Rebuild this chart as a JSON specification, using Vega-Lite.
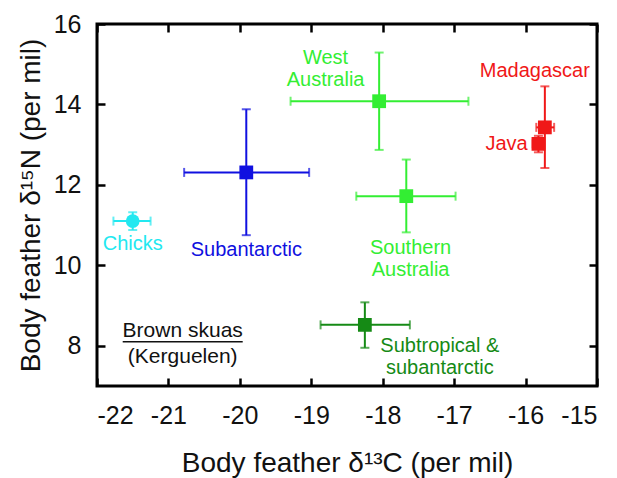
{
  "$schema": "https://vega.github.io/schema/vega-lite/v6.json",
  "autosize": "none",
  "width": 500,
  "height": 362,
  "padding": {"left": 97, "top": 24, "right": 20, "bottom": 92},
  "background": "white",
  "config": {
    "view": {"stroke": "#000", "strokeWidth": 3},
    "font": "Liberation Sans",
    "axis": {
      "grid": false,
      "domain": false,
      "tickColor": "#000",
      "tickWidth": 2.5,
      "tickSize": 8,
      "offset": -8,
      "labelFont": "Liberation Sans",
      "labelFontSize": 25,
      "labelColor": "#111",
      "labelExpr": "'' + datum.value",
      "titleFont": "Liberation Sans",
      "titleFontSize": 28,
      "titleFontWeight": "normal",
      "titleColor": "#111"
    }
  },
  "datasets": {
    "pts": [
      {"g": "Chicks", "x": -21.5, "y": 11.1, "xlo": -21.77, "xhi": -21.25, "ylo": 10.88, "yhi": 11.32},
      {"g": "Subantarctic", "x": -19.91, "y": 12.31, "xlo": -20.78, "xhi": -19.03, "ylo": 10.75, "yhi": 13.88},
      {"g": "West Australia", "x": -18.05, "y": 14.08, "xlo": -19.29, "xhi": -16.8, "ylo": 12.87, "yhi": 15.29},
      {"g": "Southern Australia", "x": -17.67, "y": 11.72, "xlo": -18.37, "xhi": -16.98, "ylo": 10.82, "yhi": 12.63},
      {"g": "Subtropical & subantarctic", "x": -18.25, "y": 8.52, "xlo": -18.87, "xhi": -17.62, "ylo": 7.95, "yhi": 9.08},
      {"g": "Madagascar", "x": -15.73, "y": 13.43, "xlo": -15.85, "xhi": -15.6, "ylo": 12.42, "yhi": 14.45},
      {"g": "Java", "x": -15.82, "y": 13.02, "xlo": -15.9, "xhi": -15.74, "ylo": 12.81, "yhi": 13.22}
    ],
    "labels": [
      {"g": "Chicks", "t": "Chicks", "x": -21.5, "y": 10.52},
      {"g": "Subantarctic", "t": "Subantarctic", "x": -19.91, "y": 10.39},
      {"g": "West Australia", "t": "West", "x": -18.8, "y": 15.15},
      {"g": "West Australia", "t": "Australia", "x": -18.8, "y": 14.6},
      {"g": "Madagascar", "t": "Madagascar", "x": -15.87, "y": 14.83},
      {"g": "Southern Australia", "t": "Southern", "x": -17.61, "y": 10.43},
      {"g": "Southern Australia", "t": "Australia", "x": -17.61, "y": 9.89},
      {"g": "Subtropical & subantarctic", "t": "Subtropical &", "x": -17.2, "y": 8.0},
      {"g": "Subtropical & subantarctic", "t": "subantarctic", "x": -17.2, "y": 7.45}
    ],
    "kerg": [
      {"g": "Kerguelen", "t": "Brown skuas", "x": -20.8, "y": 8.37},
      {"g": "Kerguelen", "t": "(Kerguelen)", "x": -20.8, "y": 7.73}
    ],
    "javalabel": [
      {"g": "Java", "t": "Java", "x": -15.97, "y": 13.02}
    ],
    "underline": [
      {"g": "Kerguelen", "x1": -21.64, "x2": -19.96, "y": 8.1}
    ]
  },
  "resolve": {"axis": {"x": "independent", "y": "independent"}},
  "layer": [
    {
      "data": {"name": "pts"},
      "mark": {"type": "rule", "strokeWidth": 2},
      "encoding": {
        "x": {"field": "xlo", "type": "quantitative", "scale": {"domain": [-22, -15], "nice": false, "zero": false},
          "axis": {"orient": "bottom", "values": [-22, -21, -20, -19, -18, -17, -16, -15], "labelPadding": 17, "title": "Body feather δ¹³C (per mil)", "titlePadding": 21}},
        "x2": {"field": "xhi"},
        "y": {"field": "y", "type": "quantitative", "scale": {"domain": [7, 16], "nice": false, "zero": false},
          "axis": {"orient": "left", "values": [8, 10, 12, 14, 16], "labelPadding": 16, "title": "Body feather δ¹⁵N (per mil)", "titlePadding": 8}},
        "color": {"field": "g", "type": "nominal", "legend": null,
          "scale": {"domain": ["Chicks", "Subantarctic", "West Australia", "Southern Australia", "Subtropical & subantarctic", "Madagascar", "Java", "Kerguelen"],
                    "range": ["#22e8f0", "#1010e0", "#33ee33", "#33ee33", "#158a15", "#f01818", "#f01818", "#111111"]}}
      }
    },
    {
      "data": {"name": "pts"},
      "mark": {"type": "rule", "strokeWidth": 2},
      "encoding": {
        "x": {"field": "x", "type": "quantitative", "axis": {"orient": "top", "values": [-22, -21, -20, -19, -18, -17, -16, -15], "labels": false, "title": null}},
        "y": {"field": "ylo", "type": "quantitative", "axis": {"orient": "right", "values": [8, 10, 12, 14, 16], "labels": false, "title": null}},
        "y2": {"field": "yhi"},
        "color": {"field": "g", "type": "nominal", "legend": null}
      }
    },
    {
      "data": {"name": "pts"},
      "transform": [{"fold": ["xlo", "xhi"], "as": ["k", "xe"]}],
      "mark": {"type": "tick", "orient": "vertical", "size": 9, "thickness": 2},
      "encoding": {
        "x": {"field": "xe", "type": "quantitative", "axis": null},
        "y": {"field": "y", "type": "quantitative", "axis": null},
        "color": {"field": "g", "type": "nominal", "legend": null}
      }
    },
    {
      "data": {"name": "pts"},
      "transform": [{"fold": ["ylo", "yhi"], "as": ["k", "ye"]}],
      "mark": {"type": "tick", "orient": "horizontal", "size": 9, "thickness": 2},
      "encoding": {
        "x": {"field": "x", "type": "quantitative", "axis": null},
        "y": {"field": "ye", "type": "quantitative", "axis": null},
        "color": {"field": "g", "type": "nominal", "legend": null}
      }
    },
    {
      "data": {"name": "pts"},
      "mark": {"type": "point", "filled": true, "opacity": 1},
      "encoding": {
        "x": {"field": "x", "type": "quantitative", "axis": null},
        "y": {"field": "y", "type": "quantitative", "axis": null},
        "color": {"field": "g", "type": "nominal", "legend": null},
        "shape": {"field": "g", "type": "nominal", "legend": null,
          "scale": {"domain": ["Chicks", "Subantarctic", "West Australia", "Southern Australia", "Subtropical & subantarctic", "Madagascar", "Java"],
                    "range": ["circle", "square", "square", "square", "square", "square", "square"]}},
        "size": {"value": 190}
      }
    },
    {
      "data": {"name": "labels"},
      "mark": {"type": "text", "fontSize": 20, "font": "Liberation Sans", "align": "center", "baseline": "middle"},
      "encoding": {
        "x": {"field": "x", "type": "quantitative", "axis": null},
        "y": {"field": "y", "type": "quantitative", "axis": null},
        "text": {"field": "t"},
        "color": {"field": "g", "type": "nominal", "legend": null}
      }
    },
    {
      "data": {"name": "kerg"},
      "mark": {"type": "text", "fontSize": 21, "font": "Liberation Sans", "align": "center", "baseline": "middle"},
      "encoding": {
        "x": {"field": "x", "type": "quantitative", "axis": null},
        "y": {"field": "y", "type": "quantitative", "axis": null},
        "text": {"field": "t"},
        "color": {"field": "g", "type": "nominal", "legend": null}
      }
    },
    {
      "data": {"name": "javalabel"},
      "mark": {"type": "text", "fontSize": 20, "font": "Liberation Sans", "align": "right", "baseline": "middle"},
      "encoding": {
        "x": {"field": "x", "type": "quantitative", "axis": null},
        "y": {"field": "y", "type": "quantitative", "axis": null},
        "text": {"field": "t"},
        "color": {"field": "g", "type": "nominal", "legend": null}
      }
    },
    {
      "data": {"name": "underline"},
      "mark": {"type": "rule", "strokeWidth": 1.5},
      "encoding": {
        "x": {"field": "x1", "type": "quantitative", "axis": null},
        "x2": {"field": "x2"},
        "y": {"field": "y", "type": "quantitative", "axis": null},
        "color": {"field": "g", "type": "nominal", "legend": null}
      }
    }
  ]
}
